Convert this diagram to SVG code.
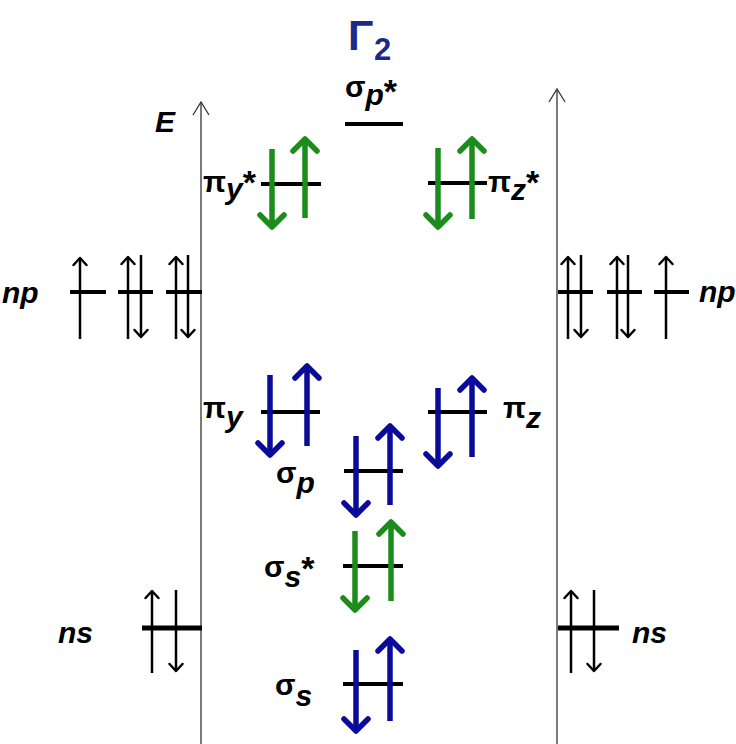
<svg xmlns="http://www.w3.org/2000/svg" width="736" height="744" viewBox="0 0 736 744">
<style>
.lvl{stroke:#000;stroke-width:4;fill:none}
.lvl5{stroke:#000;stroke-width:5;fill:none}
.ax{stroke:#333;stroke-width:1.3;fill:none;marker-end:url(#ha)}
.tk{stroke:#000;stroke-width:2.5;fill:none;marker-end:url(#hk)}
.bl{stroke:#0b0b9a;stroke-width:5.5;fill:none;marker-end:url(#hb)}
.gr{stroke:#1c8c1c;stroke-width:5.5;fill:none;marker-end:url(#hg)}
.lb{font-family:"Liberation Sans",Arial,sans-serif;font-weight:bold;font-size:30px;fill:#000}
.it{font-style:italic}
.st{font-size:34px}
.gam{font-family:"Liberation Sans",Arial,sans-serif;font-weight:bold;fill:#1a2a8a}
</style>
<defs>
<marker id="ha" markerUnits="userSpaceOnUse" viewBox="-16 -10 18 20" markerWidth="18" markerHeight="20" refX="0" refY="0" orient="auto" overflow="visible"><path d="M-13,-8 L0,0 L-13,8" fill="none" stroke="#333" stroke-width="1.3"/></marker>
<marker id="hk" markerUnits="userSpaceOnUse" viewBox="-10 -10 12 20" markerWidth="12" markerHeight="20" refX="0" refY="0" orient="auto" overflow="visible"><path d="M-7,-6.5 L0,0 L-7,6.5" fill="none" stroke="#000" stroke-width="2.5" stroke-linecap="round" stroke-linejoin="round"/></marker>
<marker id="hb" markerUnits="userSpaceOnUse" viewBox="-16 -16 20 32" markerWidth="20" markerHeight="32" refX="0" refY="0" orient="auto" overflow="visible"><path d="M-12,-12 L0,0 L-12,12" fill="none" stroke="#0b0b9a" stroke-width="5.5" stroke-linecap="round" stroke-linejoin="round"/></marker>
<marker id="hg" markerUnits="userSpaceOnUse" viewBox="-16 -16 20 32" markerWidth="20" markerHeight="32" refX="0" refY="0" orient="auto" overflow="visible"><path d="M-12,-12 L0,0 L-12,12" fill="none" stroke="#1c8c1c" stroke-width="5.5" stroke-linecap="round" stroke-linejoin="round"/></marker>
</defs>
<rect width="736" height="744" fill="#fff"/>

<g id="connectors">
<line class="ax" x1="201" y1="744" x2="201" y2="102"/>
<line class="ax" x1="557" y1="744" x2="557" y2="89"/>
</g>

<g id="title">
<text class="gam" x="348" y="50" font-size="42">Γ</text>
<text class="gam" x="374" y="60" font-size="31">2</text>
</g>

<g id="energy-label">
<text class="lb it" x="155" y="132" font-size="35">E</text>
</g>

<g id="sigma-p-star">
<line class="lvl" x1="345" y1="124" x2="403" y2="124"/>
<text class="lb" x="345" y="97">σ<tspan class="it" dy="8">p</tspan><tspan class="st" dy="-2">*</tspan></text>
</g>

<g id="pi-y-star">
<line class="lvl" x1="261" y1="184" x2="321" y2="184"/>
<line class="gr" x1="272" y1="149" x2="272" y2="227"/>
<line class="gr" x1="305" y1="218" x2="305" y2="139"/>
<text class="lb" x="203" y="192">π<tspan class="it" dy="7">y</tspan><tspan class="st" dy="-5">*</tspan></text>
</g>

<g id="pi-z-star">
<line class="lvl" x1="428" y1="183" x2="487" y2="183"/>
<line class="gr" x1="438" y1="148" x2="438" y2="227"/>
<line class="gr" x1="472" y1="219" x2="472" y2="139"/>
<text class="lb" x="488" y="192">π<tspan class="it" dy="8">z</tspan><tspan class="st" dy="-6">*</tspan></text>
</g>

<g id="np-left">
<text class="lb it" x="2" y="303" font-size="33">np</text>
<line class="lvl" x1="70" y1="292" x2="106" y2="292"/>
<line class="tk" x1="80" y1="339" x2="80" y2="258"/>
<line class="lvl" x1="118" y1="292" x2="153" y2="292"/>
<line class="tk" x1="128" y1="339" x2="128" y2="257"/>
<line class="tk" x1="141" y1="255" x2="141" y2="337"/>
<line class="lvl" x1="166" y1="292" x2="202" y2="292"/>
<line class="tk" x1="176" y1="339" x2="176" y2="257"/>
<line class="tk" x1="188" y1="255" x2="188" y2="337"/>
</g>

<g id="np-right">
<line class="lvl" x1="558" y1="292" x2="593" y2="292"/>
<line class="tk" x1="568" y1="339" x2="568" y2="257"/>
<line class="tk" x1="581" y1="255" x2="581" y2="337"/>
<line class="lvl" x1="607" y1="292" x2="642" y2="292"/>
<line class="tk" x1="617" y1="339" x2="617" y2="257"/>
<line class="tk" x1="628" y1="255" x2="628" y2="337"/>
<line class="lvl" x1="654" y1="292" x2="689" y2="292"/>
<line class="tk" x1="666" y1="339" x2="666" y2="257"/>
<text class="lb it" x="699" y="302" font-size="25">np</text>
</g>

<g id="pi-y">
<line class="lvl" x1="261" y1="412" x2="320" y2="412"/>
<line class="bl" x1="270" y1="375" x2="270" y2="455"/>
<line class="bl" x1="307" y1="446" x2="307" y2="366"/>
<text class="lb" x="203" y="418">π<tspan class="it" dy="9">y</tspan></text>
</g>

<g id="pi-z">
<line class="lvl" x1="428" y1="412" x2="487" y2="412"/>
<line class="bl" x1="438" y1="388" x2="438" y2="466"/>
<line class="bl" x1="472" y1="457" x2="472" y2="378"/>
<text class="lb" x="503" y="418">π<tspan class="it" dy="10">z</tspan></text>
</g>

<g id="sigma-p">
<line class="lvl" x1="344" y1="471" x2="403" y2="471"/>
<line class="bl" x1="356" y1="436" x2="356" y2="515"/>
<line class="bl" x1="390" y1="505" x2="390" y2="426"/>
<text class="lb" x="276" y="483">σ<tspan class="it" dy="10">p</tspan></text>
</g>

<g id="sigma-s-star">
<line class="lvl" x1="343" y1="566" x2="403" y2="566"/>
<line class="gr" x1="355" y1="531" x2="355" y2="610"/>
<line class="gr" x1="391" y1="601" x2="391" y2="522"/>
<text class="lb" x="264" y="577">σ<tspan class="it" dy="10">s</tspan><tspan class="st" dy="-7">*</tspan></text>
</g>

<g id="ns-left">
<text class="lb it" x="58" y="643" font-size="33">ns</text>
<line class="lvl5" x1="142" y1="628" x2="202" y2="628"/>
<line class="tk" x1="152" y1="673" x2="152" y2="591"/>
<line class="tk" x1="176" y1="590" x2="176" y2="671"/>
</g>

<g id="ns-right">
<line class="lvl5" x1="558" y1="628" x2="619" y2="628"/>
<line class="tk" x1="571" y1="673" x2="571" y2="591"/>
<line class="tk" x1="594" y1="590" x2="594" y2="671"/>
<text class="lb it" x="632" y="643" font-size="33">ns</text>
</g>

<g id="sigma-s">
<line class="lvl" x1="343" y1="684" x2="403" y2="684"/>
<line class="bl" x1="356" y1="650" x2="356" y2="731"/>
<line class="bl" x1="390" y1="721" x2="390" y2="639"/>
<text class="lb" x="275" y="695">σ<tspan class="it" dy="11">s</tspan></text>
</g>
</svg>
